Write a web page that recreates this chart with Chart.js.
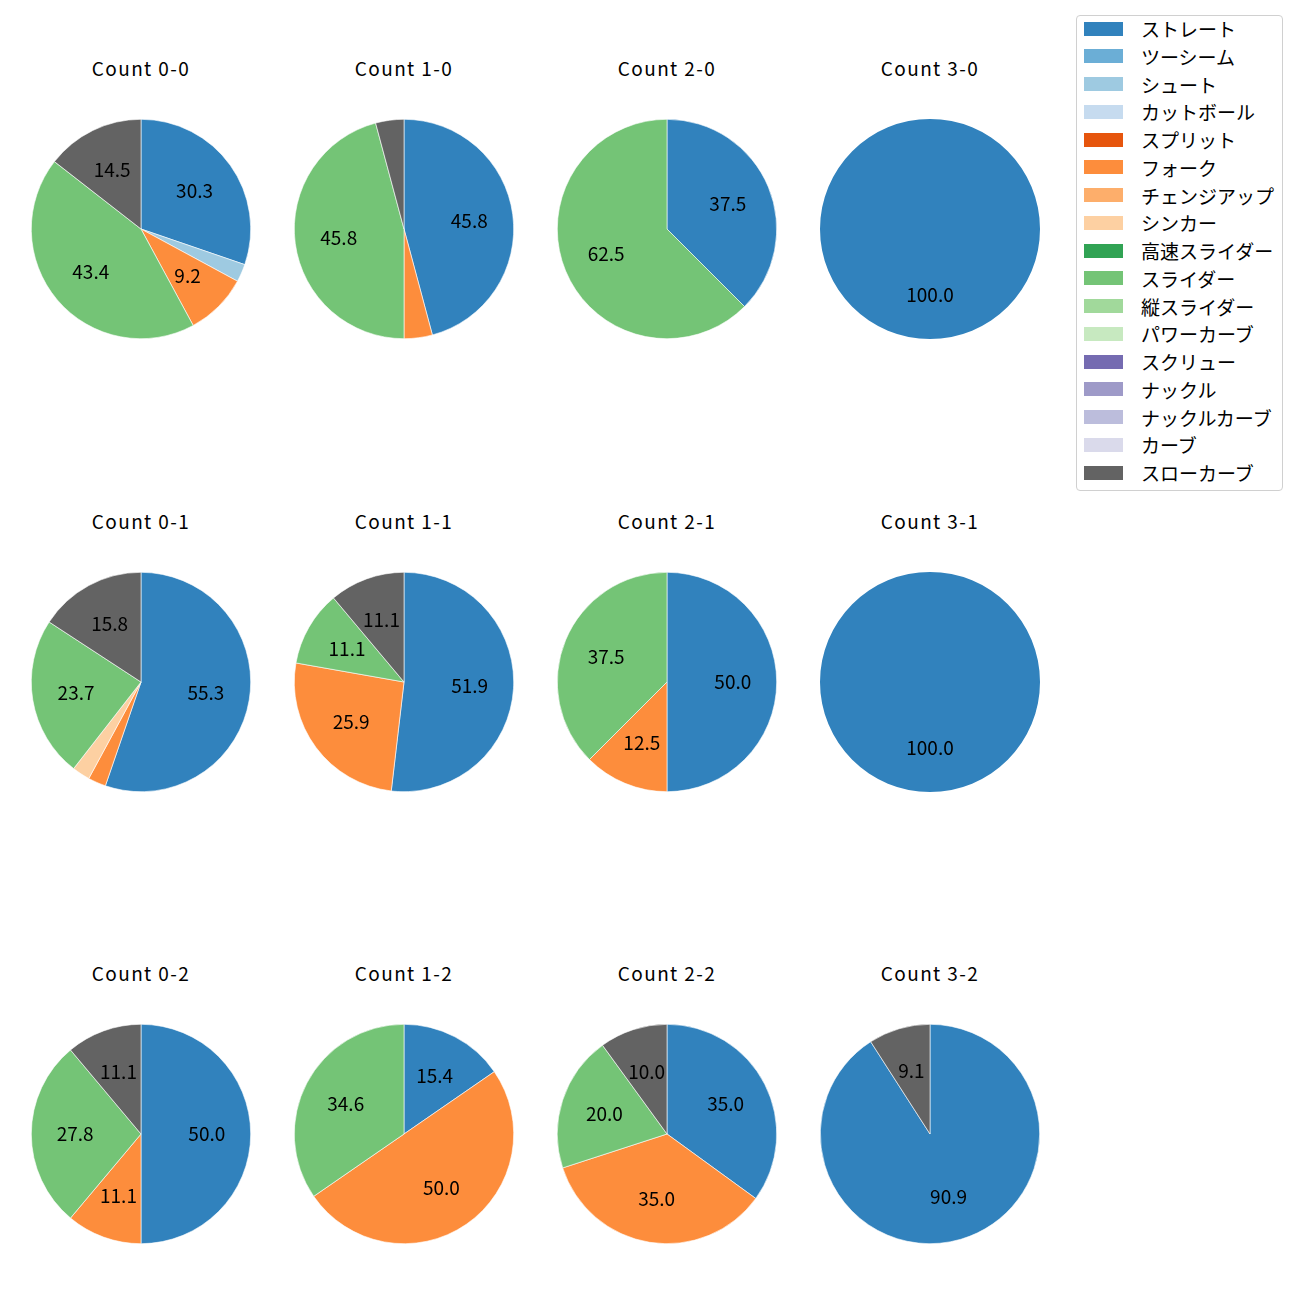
<!DOCTYPE html>
<html lang="ja">
<head>
    <meta charset="UTF-8">
    <title>Count別 球種割合</title>
    <script src="https://cdn.jsdelivr.net/npm/chart.js"></script>
    <style>
        body {
            margin: 0;
            width: 1300px;
            height: 1300px;
            background: #ffffff;
            position: relative;
            font-family: "Noto Sans CJK JP", "Noto Sans", sans-serif;
        }
        .panel {
            position: absolute;
        }
        .title {
            position: absolute;
            width: 240px;
            height: 24px;
            line-height: 24px;
            text-align: center;
            font-size: 19px;
            letter-spacing: 1.4px;
            color: #000;
        }
        .legend {
            position: absolute;
            left: 1076px;
            top: 15px;
            width: 207px;
            height: 476px;
            border: 1px solid #d0d0d0;
            border-radius: 4px;
            box-sizing: border-box;
        }
        .legend-item {
            position: absolute;
            left: 0;
            height: 20px;
            display: flex;
            align-items: center;
            font-size: 19px;
            color: #000;
            white-space: nowrap;
        }
        .legend-item span.box {
            display: inline-block;
            width: 39px;
            height: 14px;
            margin-left: 7px;
            margin-right: 18px;
        }
    </style>
</head>
<body>
    <div class="legend" id="legend"></div>

    <script>
        // 球種 (legend order) and colours
        const pitchTypes = ['ストレート', 'ツーシーム', 'シュート', 'カットボール', 'スプリット', 'フォーク',
            'チェンジアップ', 'シンカー', '高速スライダー', 'スライダー', '縦スライダー', 'パワーカーブ',
            'スクリュー', 'ナックル', 'ナックルカーブ', 'カーブ', 'スローカーブ'];
        const pitchColors = ['#3182bd', '#6baed6', '#9ecae1', '#c6dbef', '#e6550d', '#fd8d3c',
            '#fdae6b', '#fdd0a2', '#31a354', '#74c476', '#a1d99b', '#c7e9c0',
            '#756bb1', '#9e9ac8', '#bcbddc', '#dadaeb', '#636363'];

        // counts shown in each panel (row by row)
        const counts = ['0-0', '1-0', '2-0', '3-0', '0-1', '1-1', '2-1', '3-1', '0-2', '1-2', '2-2', '3-2'];

        // pitches per count, same order as counts
        const straight  = [23, 11, 3, 1, 21, 14, 4, 1, 9, 4, 7, 10];
        const shoot     = [2, 0, 0, 0, 0, 0, 0, 0, 0, 0, 0, 0];
        const fork      = [7, 1, 0, 0, 1, 7, 1, 0, 2, 13, 7, 0];
        const sinker    = [0, 0, 0, 0, 1, 0, 0, 0, 0, 0, 0, 0];
        const slider    = [33, 11, 5, 0, 9, 3, 3, 0, 5, 9, 4, 0];
        const slowCurve = [11, 1, 0, 0, 6, 3, 0, 0, 2, 0, 2, 1];
        const none      = [0, 0, 0, 0, 0, 0, 0, 0, 0, 0, 0, 0];

        const seriesByType = [straight, none, shoot, none, none, fork, none, sinker,
            none, slider, none, none, none, none, none, none, slowCurve];

        // grid placement
        const colX = [141, 404, 667, 930];
        const rowY = [229, 682, 1134];
        const R = 110;

        // percentage labels at 0.6 radius, like matplotlib autopct
        const pctLabels = {
            id: 'pctLabels',
            afterDatasetsDraw(chart) {
                const ctx = chart.ctx;
                const data = chart.data.datasets[0].data;
                const total = data.reduce((a, b) => a + b, 0);
                const meta = chart.getDatasetMeta(0);
                ctx.save();
                ctx.font = '19px "Noto Sans CJK JP", sans-serif';
                ctx.fillStyle = '#000';
                ctx.textAlign = 'center';
                ctx.textBaseline = 'middle';
                meta.data.forEach((arc, i) => {
                    const pct = data[i] / total * 100;
                    if (pct < 5) return;
                    const p = arc.getProps(['x', 'y', 'startAngle', 'endAngle', 'outerRadius'], true);
                    const mid = (p.startAngle + p.endAngle) / 2;
                    const r = p.outerRadius * 0.6;
                    ctx.fillText(pct.toFixed(1), p.x + Math.cos(mid) * r, p.y + Math.sin(mid) * r);
                });
                ctx.restore();
            }
        };

        counts.forEach((label, k) => {
            const cx = colX[k % 4];
            const cy = rowY[Math.floor(k / 4)];

            const labels = [], values = [], colors = [];
            seriesByType.forEach((s, t) => {
                if (s[k] > 0) {
                    labels.push(pitchTypes[t]);
                    values.push(s[k]);
                    colors.push(pitchColors[t]);
                }
            });

            const title = document.createElement('div');
            title.className = 'title';
            title.style.left = (cx - 120) + 'px';
            title.style.top = (cy - 161 - 12) + 'px';
            title.textContent = 'Count ' + label;
            document.body.appendChild(title);

            const size = 2 * R + 20;
            const div = document.createElement('div');
            div.className = 'panel';
            div.style.left = (cx - size / 2) + 'px';
            div.style.top = (cy - size / 2) + 'px';
            const canvas = document.createElement('canvas');
            canvas.width = size;
            canvas.height = size;
            canvas.style.width = size + 'px';
            canvas.style.height = size + 'px';
            div.appendChild(canvas);
            document.body.appendChild(div);

            new Chart(canvas.getContext('2d'), {
                type: 'pie',
                data: {
                    labels: labels,
                    datasets: [{
                        data: values,
                        backgroundColor: colors,
                        borderColor: '#ffffff',
                        borderWidth: values.length > 1 ? 0.6 : 0
                    }]
                },
                options: {
                    responsive: false,
                    animation: false,
                    layout: { padding: 10 },
                    plugins: {
                        legend: { display: false },
                        tooltip: { enabled: false }
                    }
                },
                plugins: [pctLabels]
            });
        });

        // legend
        const legend = document.getElementById('legend');
        pitchTypes.forEach((name, i) => {
            const item = document.createElement('div');
            item.className = 'legend-item';
            item.style.top = (29.5 + i * 27.75 - 15 - 1 - 11) + 'px';
            item.innerHTML = '<span class="box" style="background:' + pitchColors[i] + '"></span>' + name;
            legend.appendChild(item);
        });
    </script>
</body>
</html>
